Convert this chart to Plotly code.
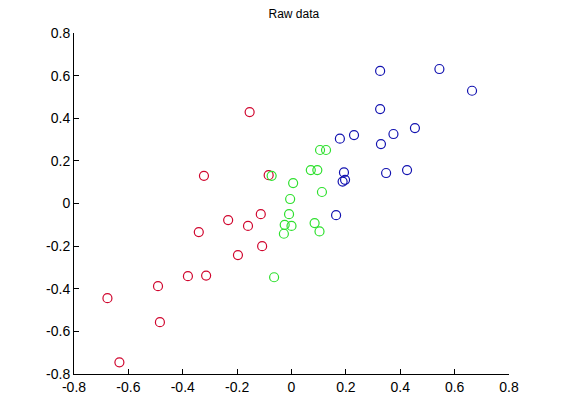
import plotly.graph_objects as go

red_x = [-0.154, -0.322, -0.084, -0.113, -0.233, -0.160, -0.341, -0.108, -0.197,
         -0.381, -0.314, -0.491, -0.677, -0.484, -0.633]
red_y = [0.429, 0.130, 0.133, -0.050, -0.078, -0.105, -0.134, -0.200, -0.242,
         -0.341, -0.338, -0.388, -0.444, -0.557, -0.745]

green_x = [-0.073, 0.006, -0.005, 0.105, 0.127, 0.071, 0.095, 0.112, -0.009,
           -0.025, 0.000, -0.028, 0.085, 0.103, -0.064]
green_y = [0.130, 0.096, 0.021, 0.251, 0.251, 0.157, 0.157, 0.054, -0.050,
           -0.100, -0.105, -0.142, -0.092, -0.131, -0.346]

blue_x = [0.326, 0.544, 0.664, 0.326, 0.454, 0.230, 0.375, 0.178, 0.329,
          0.193, 0.348, 0.425, 0.188, 0.197, 0.164]
blue_y = [0.622, 0.631, 0.529, 0.443, 0.354, 0.321, 0.326, 0.304, 0.279,
          0.146, 0.143, 0.157, 0.103, 0.111, -0.055]

tick_vals = [-0.8, -0.6, -0.4, -0.2, 0, 0.2, 0.4, 0.6, 0.8]
tick_text = ["-0.8", "-0.6", "-0.4", "-0.2", "0", "0.2", "0.4", "0.6", "0.8"]

fig = go.Figure()
for xs, ys, col in [(red_x, red_y, "#d0062e"), (green_x, green_y, "#2ee02e"),
                    (blue_x, blue_y, "#1212b0")]:
    fig.add_trace(go.Scatter(
        x=xs, y=ys, mode="markers",
        marker=dict(symbol="circle-open", size=9, color=col, line=dict(width=1.2, color=col)),
        showlegend=False, hoverinfo="skip"))

axis_common = dict(
    tickvals=tick_vals, ticktext=tick_text, range=[-0.8, 0.8],
    showgrid=False, zeroline=False, showline=True, linecolor="black", linewidth=1,
    ticks="inside", ticklen=5, tickcolor="black", tickwidth=1,
    tickfont=dict(family="Liberation Sans, Arial, sans-serif", size=14, color="black"),
    mirror=False,
)

fig.update_layout(
    width=561, height=420,
    margin=dict(l=66, r=60, t=25, b=54),
    paper_bgcolor="white", plot_bgcolor="white",
    title=dict(text="Raw data", x=(66 + 435 / 2) / 561, xanchor="center", xref="paper",
               y=1 - 5.5 / 420, yanchor="middle",
               font=dict(family="Liberation Sans, Arial, sans-serif", size=12, color="black")),
    xaxis=dict(**axis_common),
    yaxis=dict(**axis_common),
)

fig.write_html("out.html")
